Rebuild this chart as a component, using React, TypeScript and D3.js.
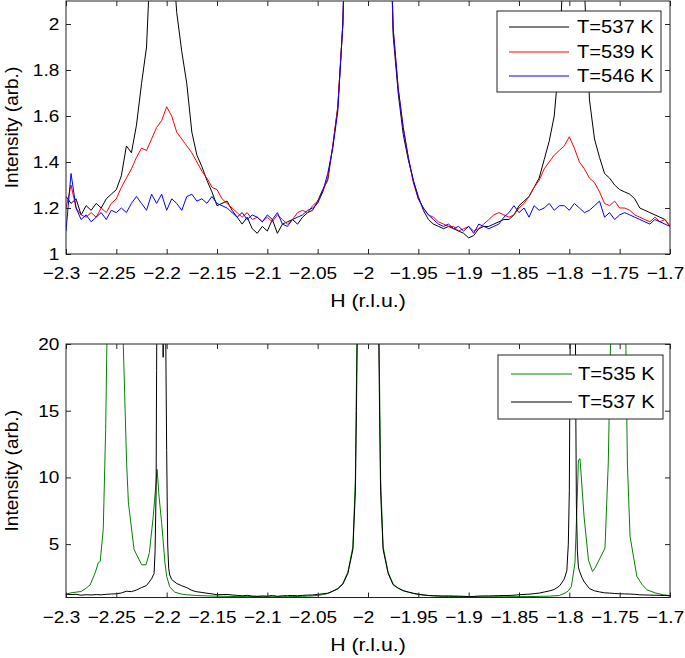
import React, { useEffect, useRef } from "react";
import * as d3 from "d3";

// H scan: -2.3 .. -1.7 r.l.u., step 0.005 (121 points)
const H_START = -2.3;
const H_STEP = 0.005;

// T=537 K on the scan grid
const i537 = [
    1.25, 1.22, 1.24, 1.17, 1.21, 1.19, 1.22, 1.2, 1.24, 1.26,
    1.28, 1.34, 1.47, 1.44, 1.56, 1.74, 1.9, 2.4, 18, 40,
    12, 2.35, 2.05, 1.88, 1.74, 1.53, 1.43, 1.38, 1.32, 1.27,
    1.21, 1.22, 1.23, 1.19, 1.16, 1.13, 1.16, 1.11, 1.09, 1.12,
    1.1, 1.15, 1.09, 1.13, 1.14, 1.15, 1.13, 1.16, 1.18, 1.19,
    1.23, 1.28, 1.32, 1.47, 1.64, 2.0, 2.8, 4.6, 25, 60,
    80, 60, 25, 4.6, 2.8, 1.95, 1.7, 1.52, 1.41, 1.32,
    1.25, 1.19, 1.15, 1.13, 1.12, 1.11, 1.12, 1.11, 1.1, 1.09,
    1.07, 1.08, 1.11, 1.12, 1.12, 1.13, 1.14, 1.15, 1.15, 1.17,
    1.21, 1.23, 1.25, 1.29, 1.33, 1.41, 1.49, 1.6, 1.85, 2.4,
    9, 30, 3.0, 2.15, 1.67, 1.5, 1.42, 1.35, 1.33, 1.3,
    1.28, 1.27, 1.26, 1.24, 1.2, 1.19, 1.18, 1.17, 1.16, 1.15,
    1.12,
];

// extra fine points of T=537 K around the Bragg peaks
const peak537: [number, number][] = [
    [-2.2125, 2.8], [-2.2115, 4.5], [-2.2105, 9], [-2.2095, 26], [-2.208, 35],
    [-2.2035, 19], [-2.2025, 30], [-2.2015, 26], [-2.199, 5], [-2.198, 3.2], [-2.197, 2.7],
    [-2.0125, 9], [-2.0115, 15], [-1.9885, 15], [-1.9875, 9],
    [-1.8075, 2.1], [-1.8025, 3.0], [-1.801, 5], [-1.7995, 16], [-1.799, 22], [-1.7965, 35],
    [-1.794, 22], [-1.7935, 14], [-1.793, 8], [-1.792, 4.5], [-1.791, 3.3], [-1.7875, 2.5],
];

// T=539 K on the scan grid
const i539 = [
    1.2, 1.3, 1.2, 1.17, 1.16, 1.18, 1.16, 1.2, 1.18, 1.22,
    1.24, 1.29, 1.33, 1.37, 1.42, 1.46, 1.45, 1.5, 1.55, 1.58,
    1.64, 1.6, 1.53, 1.5, 1.47, 1.44, 1.4, 1.36, 1.33, 1.29,
    1.28, 1.24, 1.22, 1.2, 1.18, 1.16, 1.18, 1.15, 1.16, 1.14,
    1.16, 1.14, 1.17, 1.15, 1.13, 1.15, 1.18, 1.19, 1.18, 1.21,
    1.23, 1.27, 1.33, 1.47, 1.64, 2.0, 2.8, 4.6, 14, 60,
    80, 60, 14, 4.6, 2.8, 1.98, 1.72, 1.55, 1.42, 1.31,
    1.24, 1.2, 1.17, 1.16, 1.14, 1.13, 1.12, 1.12, 1.1, 1.11,
    1.12, 1.1, 1.11, 1.13, 1.15, 1.17, 1.18, 1.17, 1.16, 1.17,
    1.2, 1.22, 1.25, 1.29, 1.32, 1.37, 1.4, 1.43, 1.45, 1.47,
    1.51, 1.46, 1.4, 1.37, 1.33, 1.31, 1.27, 1.22, 1.21, 1.23,
    1.2, 1.2, 1.19, 1.17, 1.16, 1.15, 1.14, 1.16, 1.14, 1.15,
    1.12,
];

// T=546 K on the scan grid
const i546 = [
    1.1, 1.35, 1.2, 1.15, 1.17, 1.14, 1.16, 1.18, 1.15, 1.19,
    1.18, 1.2, 1.18, 1.22, 1.25, 1.22, 1.19, 1.26, 1.22, 1.26,
    1.19, 1.24, 1.22, 1.19, 1.25, 1.26, 1.23, 1.24, 1.22, 1.25,
    1.22, 1.21, 1.2, 1.18, 1.16, 1.18, 1.15, 1.17, 1.16, 1.14,
    1.17, 1.15, 1.18, 1.13, 1.12, 1.15, 1.16, 1.17, 1.19, 1.2,
    1.22, 1.27, 1.35, 1.46, 1.62, 2.0, 2.8, 4.6, 14, 60,
    80, 60, 14, 4.6, 2.8, 1.98, 1.72, 1.55, 1.42, 1.32,
    1.24, 1.2, 1.17, 1.15, 1.13, 1.12, 1.13, 1.11, 1.12, 1.1,
    1.12, 1.09, 1.13, 1.12, 1.11, 1.12, 1.13, 1.16, 1.18, 1.21,
    1.18, 1.2, 1.16, 1.21, 1.19, 1.2, 1.22, 1.19, 1.21, 1.21,
    1.19, 1.22, 1.2, 1.18, 1.19, 1.21, 1.23, 1.16, 1.18, 1.15,
    1.17, 1.18, 1.17, 1.16, 1.15, 1.14, 1.13, 1.15, 1.14, 1.13,
    1.12,
];

// T=535 K, [H, intensity]
const curve535: [number, number][] = [
    [-2.3, 1.25], [-2.295, 1.35], [-2.29, 1.4], [-2.285, 1.45], [-2.28, 1.7], [-2.276, 1.95],
    [-2.271, 2.85], [-2.268, 3.6], [-2.266, 3.7], [-2.263, 6.1], [-2.2606, 13.6], [-2.259, 22],
    [-2.255, 45], [-2.251, 60], [-2.247, 45], [-2.2431, 20], [-2.2398, 11.1], [-2.238, 8.1],
    [-2.2324, 4.6], [-2.2248, 3.45], [-2.2205, 3.45], [-2.2172, 4.35], [-2.2133, 7.1],
    [-2.2095, 10.6], [-2.2076, 8.6], [-2.205, 6.6], [-2.2017, 3.6], [-2.2, 2.6], [-2.197, 1.8],
    [-2.192, 1.4], [-2.185, 1.25], [-2.18, 1.2], [-2.17, 1.15], [-2.16, 1.12], [-2.15, 1.1],
    [-2.13, 1.07], [-2.1, 1.05], [-2.08, 1.06], [-2.06, 1.1], [-2.05, 1.15], [-2.045, 1.22],
    [-2.04, 1.3], [-2.035, 1.48], [-2.03, 1.68], [-2.025, 2.05], [-2.02, 2.9], [-2.015, 4.8],
    [-2.0125, 10], [-2.0115, 17], [-2.01, 27], [-2.005, 60], [-2.0, 80], [-1.995, 60],
    [-1.99, 27], [-1.9885, 17], [-1.9875, 10], [-1.985, 4.8], [-1.98, 2.9], [-1.975, 2.0],
    [-1.97, 1.7], [-1.965, 1.5], [-1.96, 1.4], [-1.955, 1.3], [-1.95, 1.22], [-1.94, 1.15],
    [-1.93, 1.1], [-1.92, 1.08], [-1.9, 1.05], [-1.88, 1.05], [-1.86, 1.06], [-1.84, 1.07],
    [-1.82, 1.1], [-1.81, 1.15], [-1.8043, 1.33], [-1.801, 1.5], [-1.798, 1.8], [-1.7944, 3.6],
    [-1.7921, 8.6], [-1.791, 11.3], [-1.7894, 11.4], [-1.7854, 7.1], [-1.781, 3.8],
    [-1.777, 2.95], [-1.7745, 3.2], [-1.7646, 4.7], [-1.7613, 11.1], [-1.7586, 22],
    [-1.755, 45], [-1.751, 60], [-1.747, 45], [-1.744, 21], [-1.7423, 11], [-1.7397, 5.6],
    [-1.733, 2.6], [-1.728, 2.0], [-1.723, 1.58], [-1.715, 1.35], [-1.7066, 1.2], [-1.7, 1.15],
];

const hTicks = [-2.3, -2.25, -2.2, -2.15, -2.1, -2.05, -2, -1.95, -1.9, -1.85, -1.8, -1.75, -1.7];
const topYTicks = [1, 1.2, 1.4, 1.6, 1.8, 2];
const bottomYTicks = [5, 10, 15, 20];

const FONT = "'Liberation Sans', Arial, Helvetica, sans-serif";
const STRETCH = "scale(1.12,1)";

type Pt = [number, number];

const App: React.FC = () => {
    const svgRef = useRef<SVGSVGElement | null>(null);

    useEffect(() => {
        if (!svgRef.current) return;
        const svg = d3.select(svgRef.current);
        svg.selectAll("*").remove();

        const onGrid = (vals: number[]): Pt[] => vals.map((v, i) => [H_START + i * H_STEP, v]);
        const s537 = [...onGrid(i537), ...peak537].sort((a, b) => a[0] - b[0]);
        const s539 = onGrid(i539);
        const s546 = onGrid(i546);

        const x = d3.scaleLinear().domain([-2.3, -1.7]).range([66, 670]);
        const fmt = (d: d3.NumberValue) => String(d).replace("-", "\u2212");

        const panels = [
            {
                id: "top", top: 1, bottom: 254, domain: [1, 2.1], yTicks: topYTicks,
                series: [
                    { name: "T=537 K", data: s537, color: "#000000" },
                    { name: "T=539 K", data: s539, color: "#ff0000" },
                    { name: "T=546 K", data: s546, color: "#0000ff" },
                ],
                legend: { x: 497, y: 11, w: 164, h: 81, rows: [27, 52, 76], lx1: 509, lx2: 569, tx: 577 },
            },
            {
                id: "bottom", top: 344, bottom: 597.5, domain: [1, 20], yTicks: bottomYTicks,
                series: [
                    { name: "T=535 K", data: curve535, color: "#008000" },
                    { name: "T=537 K", data: s537, color: "#000000" },
                ],
                legend: { x: 498, y: 355, w: 165, h: 64, rows: [374, 402], lx1: 511, lx2: 572, tx: 578 },
            },
        ];

        panels.forEach((p) => {
            const y = d3.scaleLinear().domain(p.domain).range([p.bottom, p.top]);

            svg.append("clipPath")
                .attr("id", `clip-${p.id}`)
                .append("rect")
                .attr("x", 66)
                .attr("y", p.top)
                .attr("width", 604)
                .attr("height", p.bottom - p.top);

            const line = d3.line<Pt>().x((d) => x(d[0])).y((d) => y(d[1]));

            svg.append("g")
                .attr("clip-path", `url(#clip-${p.id})`)
                .selectAll("path")
                .data(p.series)
                .join("path")
                .attr("d", (d) => line(d.data))
                .attr("fill", "none")
                .attr("stroke", (d) => d.color)
                .attr("stroke-width", 1);

            const styleAxis = (g: d3.Selection<SVGGElement, unknown, null, undefined>) => {
                g.select(".domain").remove();
                g.attr("color", "#222").attr("font-family", FONT).attr("font-size", 17);
                g.selectAll("text").attr("fill", "#000").attr("transform", STRETCH);
            };

            svg.append("g")
                .attr("transform", `translate(0,${p.bottom})`)
                .call(d3.axisBottom(x).tickValues(hTicks).tickSizeInner(-5).tickSizeOuter(0).tickPadding(13).tickFormat(fmt))
                .call(styleAxis)
                .call((g) => g.selectAll("text").attr("x", -4.5));
            svg.append("g")
                .attr("transform", `translate(0,${p.top})`)
                .call(d3.axisTop(x).tickValues(hTicks).tickSizeInner(-5).tickSizeOuter(0).tickFormat(() => ""))
                .call(styleAxis);
            svg.append("g")
                .attr("transform", `translate(66,0)`)
                .call(d3.axisLeft(y).tickValues(p.yTicks).tickSizeInner(-5).tickSizeOuter(0).tickPadding(6).tickFormat(fmt))
                .call(styleAxis);
            svg.append("g")
                .attr("transform", `translate(670,0)`)
                .call(d3.axisRight(y).tickValues(p.yTicks).tickSizeInner(-5).tickSizeOuter(0).tickFormat(() => ""))
                .call(styleAxis);

            svg.append("rect")
                .attr("x", 66)
                .attr("y", p.top)
                .attr("width", 604)
                .attr("height", p.bottom - p.top)
                .attr("fill", "none")
                .attr("stroke", "#222")
                .attr("stroke-width", 1);

            // axis titles
            svg.append("g")
                .attr("transform", `translate(368,${p.bottom + 53})`)
                .append("text")
                .attr("transform", STRETCH)
                .attr("text-anchor", "middle")
                .attr("font-family", FONT)
                .attr("font-size", 19)
                .text("H (r.l.u.)");
            svg.append("text")
                .attr("transform", `translate(18,${(p.top + p.bottom) / 2}) rotate(-90)`)
                .attr("text-anchor", "middle")
                .attr("font-family", FONT)
                .attr("font-size", 19)
                .text("Intensity (arb.)");

            // legend
            const L = p.legend;
            const lg = svg.append("g");
            lg.append("rect")
                .attr("x", L.x)
                .attr("y", L.y)
                .attr("width", L.w)
                .attr("height", L.h)
                .attr("fill", "#fff")
                .attr("stroke", "#222")
                .attr("stroke-width", 1);
            p.series.forEach((s, i) => {
                const ry = L.rows[i];
                lg.append("line")
                    .attr("x1", L.lx1)
                    .attr("x2", L.lx2)
                    .attr("y1", ry)
                    .attr("y2", ry)
                    .attr("stroke", s.color)
                    .attr("stroke-width", 1);
                lg.append("g")
                    .attr("transform", `translate(${L.tx},${ry})`)
                    .append("text")
                    .attr("transform", STRETCH)
                    .attr("dy", "0.36em")
                    .attr("font-family", FONT)
                    .attr("font-size", 18)
                    .text(s.name);
            });
        });
    }, []);

    return (
        <svg
            ref={svgRef}
            width={685}
            height={658}
            style={{ position: "absolute", left: 0, top: 0, background: "#fff" }}
        ></svg>
    );
};

export default App;
